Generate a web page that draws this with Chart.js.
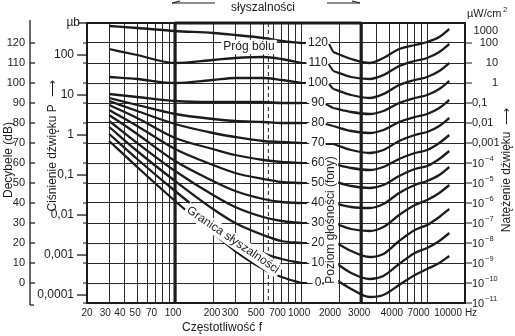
<!DOCTYPE html>
<html>
<head>
<meta charset="utf-8">
<script src="https://cdn.jsdelivr.net/npm/chart.js@4.4.0/dist/chart.umd.min.js"></script>
<style>
  html, body { margin: 0; padding: 0; background: #fff; }
  #wrap { width: 515px; height: 336px; }
</style>
</head>
<body>
<div id="wrap"><canvas id="chart" width="515" height="336"></canvas></div>
<script>
// krzywe jednakowej głośności (fony), poziom w dB
const phonLevels = [0, 10, 20, 30, 40, 50, 60, 70, 80, 90, 100, 110, 120];

const lowFreqs = [30, 50, 100, 200, 300, 500, 700, 1000];
const lowCurves = [
  [71, 58, 41, 25, 16, 7, 3, 0],
  [74.5, 62, 46, 31, 23, 15, 12, 10],
  [78, 66, 51, 37, 30, 24, 21, 20],
  [81, 70, 56, 44, 38, 33, 31, 30],
  [84, 74.5, 61, 51, 46, 42, 40.5, 40],
  [86.5, 78.5, 67, 59, 55, 52, 50.5, 50],
  [89, 82.5, 72.5, 67, 64, 61.5, 60.5, 60],
  [91, 86, 79.5, 75, 73, 71, 70.5, 70],
  [92.5, 89, 84.5, 82, 81, 80.5, 80, 80],
  [94.5, 93, 91, 90.5, 90.5, 90.5, 90, 90],
  [103, 102, 100, 101.5, 102.5, 102.5, 101.5, 100],
  [117, 114, 110, 111.5, 112.5, 113, 112, 110],
  [128.5, 127.5, 126, 125, 124, 122.5, 121, 120]
];

const highFreqs = [1800, 2500, 3500, 4500, 6000, 8000, 10000, 12500, 15000];
const highCurves = [
  [2.5, -3, -7, -6, -1, 4, 7, 10, 13.5],
  [11, 5, 2, 3.5, 9.5, 15, 17.5, 21, 25],
  [21, 16, 13, 14.5, 21, 26.5, 29, 33, 37],
  [30, 27, 26, 28, 34, 39, 41.5, 45, 49],
  [40, 38, 37.5, 39.5, 45, 49, 51, 54, 58],
  [51, 48.5, 47.5, 49, 53.5, 57, 58.5, 62, 66],
  [59.5, 57.5, 56.5, 58, 62, 65, 66.5, 70, 74],
  [69.5, 66.5, 65, 66.5, 71, 74, 75.5, 78.5, 82.5],
  [78.5, 76, 75, 76.5, 80.5, 83, 84.5, 87.5, 91.5],
  [87.5, 85.5, 84.5, 86, 90, 92.5, 94, 97, 101],
  [97, 94, 92.5, 94.5, 99, 101.5, 103, 106, 110],
  [106, 103, 102, 104, 108.5, 111, 112.5, 115.5, 119.5],
  [115.5, 112, 110, 112.5, 117, 119, 120.5, 123, 127]
];

const gridFreqs = [20, 30, 40, 50, 60, 70, 80, 90, 100, 200, 300, 400, 500, 600, 700, 800, 900,
  1000, 2000, 3000, 4000, 5000, 6000, 7000, 8000, 9000, 10000, 20000];
const freqLabels = [20, 30, 40, 50, 70, 100, 200, 300, 500, 700, 1000, 2000, 3000, 4000, 7000, 10000];
const dbTicks = [0, 10, 20, 30, 40, 50, 60, 70, 80, 90, 100, 110, 120];
const pressureTicks = ['0,0001', '0,001', '0,01', '0,1', '1', '10', '100'];
const intensityExp = [-11, -10, -9, -8, -7, -6, -5, -4, -3, -2, -1, 0, 1, 2, 3];

const FONT = "'Liberation Sans', Arial, sans-serif";
const INK = '#1c1c1c';

const datasets = [];
phonLevels.forEach((p, i) => {
  datasets.push({
    data: lowFreqs.map((f, j) => ({ x: f, y: lowCurves[i][j] })),
    borderColor: INK, borderWidth: 2.3, pointRadius: 0, fill: false,
    cubicInterpolationMode: 'monotone'
  });
  datasets.push({
    data: highFreqs.map((f, j) => ({ x: f, y: highCurves[i][j] })),
    borderColor: INK, borderWidth: 2.3, pointRadius: 0, fill: false,
    cubicInterpolationMode: 'monotone'
  });
});

function drawText(ctx, str, x, y, opts) {
  const o = Object.assign({ size: 12, align: 'center', rot: 0, bg: false }, opts || {});
  ctx.save();
  ctx.translate(x, y);
  ctx.rotate(o.rot);
  ctx.font = o.size + 'px ' + FONT;
  ctx.textAlign = o.align;
  ctx.textBaseline = 'middle';
  if (o.bg) {
    const w = ctx.measureText(str).width;
    let x0 = -w / 2;
    if (o.align === 'left') x0 = 0;
    if (o.align === 'right') x0 = -w;
    ctx.fillStyle = '#fff';
    ctx.fillRect(x0 - 2, -o.size * 0.6, w + 4, o.size * 1.2);
  }
  ctx.fillStyle = INK;
  ctx.fillText(str, 0, 0);
  ctx.restore();
}

function line(ctx, x1, y1, x2, y2, w) {
  ctx.beginPath();
  ctx.lineWidth = w || 1;
  ctx.moveTo(x1, y1);
  ctx.lineTo(x2, y2);
  ctx.stroke();
}

// przesunięcia podpisów osi x względem linii siatki (jak w oryginale)
const labelShift = { 30: -4, 40: -5, 50: -2, 70: -4, 100: -2, 200: -1, 300: -5, 500: -7,
  700: -4, 1000: -2, 2000: -9, 3000: -2, 4000: 15, 7000: 11, 10000: 21 };

const decorations = {
  id: 'decorations',
  afterDatasetsDraw(chart) {
    const { ctx, chartArea: a, scales: { x, y } } = chart;
    ctx.save();
    ctx.strokeStyle = INK;

    // ramka i grube linie 100 Hz / 3000 Hz
    ctx.lineWidth = 2;
    ctx.strokeRect(a.left, a.top, a.right - a.left, a.bottom - a.top);
    line(ctx, x.getPixelForValue(100), a.top, x.getPixelForValue(100), a.bottom, 3.2);
    line(ctx, x.getPixelForValue(3000), a.top, x.getPixelForValue(3000), a.bottom, 3.2);
    line(ctx, x.getPixelForValue(100), a.top, x.getPixelForValue(3000), a.top, 3);

    // linia przerywana
    ctx.save();
    ctx.setLineDash([4, 3]);
    const xd = x.getPixelForValue(550);
    line(ctx, xd, a.top, xd, a.bottom, 1);
    ctx.restore();

    // przedłużenia siatki na zewnątrz
    for (let v = -10; v <= 120; v += 10) {
      const py = y.getPixelForValue(v);
      line(ctx, a.left - 4, py, a.left, py, 1);
      line(ctx, a.right, py, a.right + 7, py, 1);
    }

    // oś decybeli
    const ax = 30;
    line(ctx, ax, 20, ax, 305, 1.3);
    line(ctx, ax, 305, ax + 4, 305, 1.3);
    dbTicks.forEach(v => {
      const py = y.getPixelForValue(v);
      line(ctx, ax, py, ax + 5, py, 1.3);
      drawText(ctx, String(v), 25, py, { align: 'right', size: 11 });
    });
    drawText(ctx, 'Decybele (dB)', 9, 160, { rot: -Math.PI / 2 });

    // oś ciśnienia (µb), 0 dB = 0,0002 µb
    pressureTicks.forEach(lbl => {
      const p = parseFloat(lbl.replace(',', '.'));
      const py = y.getPixelForValue(20 * Math.log10(p / 0.0002));
      line(ctx, a.left - 10, py, a.left, py, 1.3);
      drawText(ctx, lbl, 74, py, { align: 'right' });
    });
    line(ctx, a.left - 9, a.top, a.left, a.top, 1.3);
    drawText(ctx, 'µb', 80, a.top, { align: 'right' });
    drawText(ctx, 'Ciśnienie dźwięku P  \u27F6', 53, 146, { rot: -Math.PI / 2 });

    // oś natężenia (µW/cm²), 0 dB = 1e-10 µW/cm²
    intensityExp.forEach(e => {
      let py = y.getPixelForValue(10 * e + 100);
      if (e === 3) py += 8;
      if (e >= 0) {
        drawText(ctx, String(Math.pow(10, e)), 498, py, { align: 'right', size: 11 });
      } else if (e >= -3) {
        drawText(ctx, '0,' + '0'.repeat(-e - 1) + '1', 472, py, { align: 'left', size: 11 });
      } else {
        drawText(ctx, '10', 472, py + 1, { align: 'left', size: 11 });
        drawText(ctx, '\u2212' + (-e), 485, py - 4, { align: 'left', size: 7.5 });
      }
    });
    drawText(ctx, 'µW/cm', 467, 14, { align: 'left', size: 11 });
    drawText(ctx, '2', 503, 10, { align: 'left', size: 7.5 });
    drawText(ctx, 'Natężenie dźwięku  \u27F6', 507, 170, { rot: -Math.PI / 2 });

    // etykiety częstotliwości
    freqLabels.forEach(f => {
      const px = x.getPixelForValue(f) + (labelShift[f] || 0);
      drawText(ctx, String(f), px, 313, { size: 10 });
    });
    drawText(ctx, 'Hz', 471, 313, { size: 10 });
    drawText(ctx, 'Częstotliwość f', 222, 328);

    // etykiety fonów
    phonLevels.forEach((p, i) => {
      const py = y.getPixelForValue(p);
      const x1 = x.getPixelForValue(1000);
      line(ctx, x1, py, x1 + 6, py, 2);
      drawText(ctx, String(p), 318, py, { size: 12, bg: true });
      ctx.font = '12px ' + FONT;
      const w = ctx.measureText(String(p)).width;
      const h0 = highCurves[i][0];
      line(ctx, 318 + w / 2 + 1, py + 1, x.getPixelForValue(highFreqs[0]), y.getPixelForValue(h0), 2);
    });
    drawText(ctx, 'Poziom głośności (fony)', 331, 220, { rot: -Math.PI / 2, bg: true });

    drawText(ctx, 'Próg bólu', 249, 47, { bg: true });
    drawText(ctx, 'Granica słyszalności', 233, 240, { rot: 0.6, bg: true });

    // nagłówek u góry
    drawText(ctx, 'słyszalności', 263, 8);
    line(ctx, 172, 3, 215, 3, 1.2);
    line(ctx, 172, 3, 180, 1, 1.2);
    line(ctx, 327, 3, 360, 3, 1.2);
    line(ctx, 360, 3, 352, 1, 1.2);

    ctx.restore();
  }
};

new Chart(document.getElementById('chart').getContext('2d'), {
  type: 'line',
  data: { datasets },
  options: {
    responsive: false,
    animation: false,
    events: [],
    layout: { padding: { left: 87, right: 50, top: 23, bottom: 33 } },
    plugins: { legend: { display: false }, tooltip: { enabled: false } },
    scales: {
      x: {
        type: 'logarithmic', min: 20, max: 20000,
        afterBuildTicks: s => { s.ticks = gridFreqs.map(v => ({ value: v })); },
        afterFit: s => { s.height = 0; },
        ticks: { display: false },
        border: { display: false },
        grid: {
          color: '#2a2a2a', drawTicks: false,
          lineWidth: c => (c.tick && (c.tick.value === 20 || c.tick.value === 20000)) ? 0 : 1
        }
      },
      y: {
        type: 'linear', min: -10, max: 130,
        afterFit: s => { s.width = 0; },
        ticks: { display: false, stepSize: 10 },
        border: { display: false },
        grid: { color: '#2a2a2a', drawTicks: false, lineWidth: 1 }
      }
    }
  },
  plugins: [decorations]
});
</script>
</body>
</html>
